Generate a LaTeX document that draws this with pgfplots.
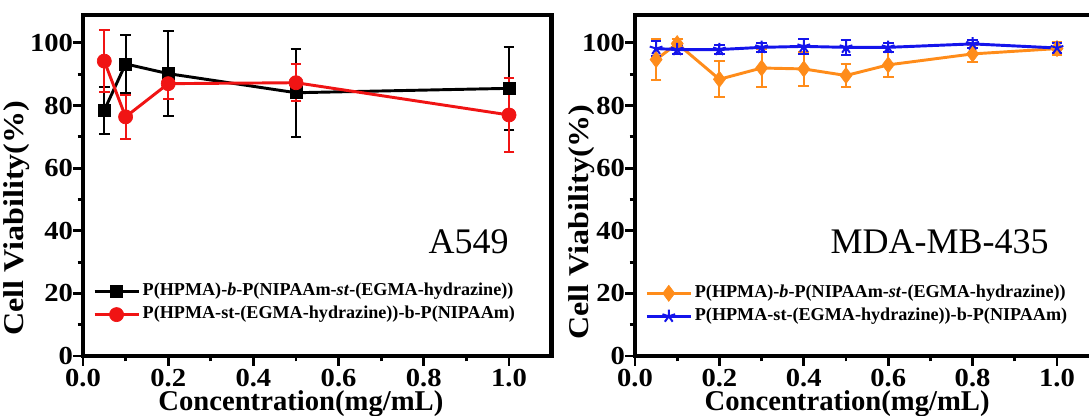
\documentclass[border=0pt]{standalone}
\usepackage{fontspec}
\setmainfont{Liberation Serif}
\usepackage{pgfplots}
\pgfplotsset{compat=1.18}
\usepackage{pgfplotstable}

\definecolor{cred}{RGB}{240,20,20}
\definecolor{corange}{RGB}{255,140,26}
\definecolor{cblue}{RGB}{20,20,235}

\newcommand{\labfont}{\bfseries\fontsize{21.5}{21.5}\selectfont}

\pgfplotstableread{
x y e
0.05 78.5 7.5
0.1 93.3 9.4
0.2 90.2 13.6
0.5 84.1 14.0
1.0 85.5 13.2
}\blackdata
\pgfplotstableread{
x y e
0.05 94.2 9.8
0.1 76.4 7.0
0.2 87.0 5.0
0.5 87.3 6.0
1.0 77.0 11.8
}\reddata
\pgfplotstableread{
x y e
0.05 94.7 6.5
0.1 99.8 1.5
0.2 88.4 5.7
0.3 92.0 6.1
0.4 91.7 5.4
0.5 89.6 3.8
0.6 93.0 4.0
0.8 96.5 2.7
1.0 98.2 2.0
}\orangedata
\pgfplotstableread{
x y e
0.05 98.2 2.5
0.1 97.9 1.5
0.2 97.9 1.5
0.3 98.6 1.5
0.4 98.9 2.3
0.5 98.6 2.3
0.6 98.6 1.5
0.8 99.7 1.2
1.0 98.4 1.5
}\bluedata

\pgfplotsset{
  panel/.style={
    scale only axis,
    height=255.9pt,
    xmin=0, xmax=1.1, ymin=0, ymax=109,
    xtick={0,0.2,0.4,0.6,0.8,1.0},
    ytick={0,20,40,60,80,100},
    minor x tick num=1, minor y tick num=1,
    xtick pos=bottom, ytick pos=left,
    tick align=outside,
    major tick length=7.5pt, minor tick length=4pt,
    every tick/.append style={black, line width=2.2pt},
    axis line style={line width=3.2pt},
    tick label style={font=\bfseries\fontsize{19.5}{19.5}\selectfont},
    /pgf/number format/assume math mode=true,
    xticklabel={\scalebox{1.1}[1]{\pgfmathprintnumber[fixed,fixed zerofill,precision=1]{\tick}}},
    yticklabel={\scalebox{1.1}[1]{\pgfmathprintnumber{\tick}}},
    xticklabel style={yshift=1pt},
    yticklabel style={xshift=3.5pt},
    xlabel={Concentration(mg/mL)},
    ylabel={\scalebox{1.12}[1]{Cell Viability(\%)}},
    legend cell align=left,
    legend style={draw=none, fill=none, inner sep=0pt,
      font=\bfseries\fontsize{13.6}{13.6}\selectfont,
      nodes={inner sep=0pt, text height=10pt, text depth=3.5pt},
      row sep=3.75pt,
      /tikz/every odd column/.append style={column sep=2pt}},
    legend image code/.code={\draw[mark repeat=2,mark phase=2,#1]
      plot coordinates {(0pt,0pt) (16.5pt,0pt) (33pt,0pt)};},
    every axis plot/.append style={line width=2.2pt},
    error bars/error bar style={line width=1.5pt},
    error bars/error mark options={rotate=90, mark size=4pt, line width=1.5pt},
  }
}

\begin{document}
\begin{tikzpicture}
% ---------- A549 ----------
\begin{axis}[panel,
  at={(62.25pt,45pt)}, anchor=south west,
  width=351.45pt,
  every axis x label/.style={at={(rel axis cs:0.465,0)}, anchor=base, yshift=-41pt, font=\labfont},
  every axis y label/.style={at={(rel axis cs:0,0.404)}, xshift=-49.5pt, rotate=90, anchor=center, font=\labfont},
  legend style={at={(rel axis cs:0.021,0.155)}, anchor=west},
]
\addplot[black, mark=square*, mark size=4.5pt, mark options={solid, line width=0.5pt},
  error bars/.cd, y dir=both, y explicit]
  table[x=x, y=y, y error=e] {\blackdata};
\addlegendentry{P(HPMA)-\textit{b}-P(NIPAAm-\textit{st}-(EGMA-hydrazine))}
\addplot[cred, mark=*, mark size=5.3pt, mark options={solid, line width=0.5pt},
  error bars/.cd, y dir=both, y explicit]
  table[x=x, y=y, y error=e] {\reddata};
\addlegendentry{P(HPMA-st-(EGMA-hydrazine))-b-P(NIPAAm)}
\node[anchor=base east, font=\fontsize{27}{27}\selectfont, inner sep=0pt] at (axis cs:1.0,32.9) {A549};
\end{axis}
% ---------- MDA-MB-435 ----------
\begin{axis}[panel,
  at={(476.25pt,45pt)}, anchor=south west,
  width=348.15pt,
  every axis x label/.style={at={(rel axis cs:0.457,0)}, anchor=base, yshift=-41pt, font=\labfont},
  every axis y label/.style={at={(rel axis cs:0,0.393)}, xshift=-39.75pt, rotate=90, anchor=center, font=\labfont},
  legend style={at={(rel axis cs:0.0216,0.15)}, anchor=west},
]
\addplot[corange, mark=diamond*, mark size=6pt, mark options={solid, line width=0.5pt},
  error bars/.cd, y dir=both, y explicit]
  table[x=x, y=y, y error=e] {\orangedata};
\addlegendentry{P(HPMA)-\textit{b}-P(NIPAAm-\textit{st}-(EGMA-hydrazine))}
\addplot[cblue, mark=star, mark size=5pt, mark options={solid, line width=1.5pt},
  error bars/.cd, y dir=both, y explicit]
  table[x=x, y=y, y error=e] {\bluedata};
\addlegendentry{P(HPMA-st-(EGMA-hydrazine))-b-P(NIPAAm)}
\node[anchor=base east, font=\fontsize{27}{27}\selectfont, inner sep=0pt] at (axis cs:0.981,32.9) {MDA-MB-435};
\end{axis}
\pgfresetboundingbox
\useasboundingbox (0,0) rectangle (816.75pt,312pt);
\end{tikzpicture}
\end{document}
